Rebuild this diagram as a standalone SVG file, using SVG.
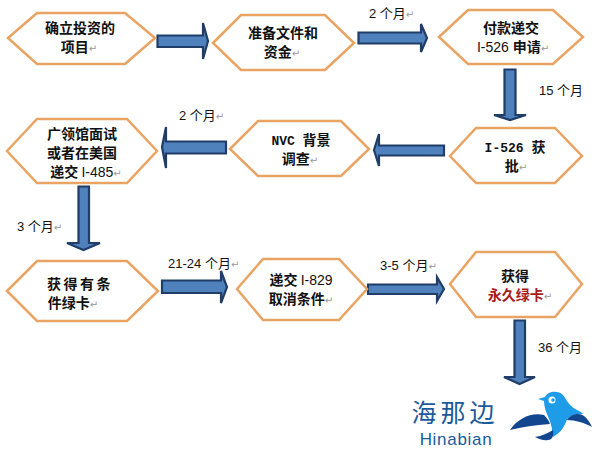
<svg xmlns="http://www.w3.org/2000/svg" width="596" height="451" viewBox="0 0 596 451">
<style>
.hex{fill:#fff;stroke:#E9A363;stroke-width:2.5;stroke-linejoin:miter}
.arr{fill:#4F81BD;stroke:#1F3D66;stroke-width:2.2;stroke-linejoin:miter}
text{font-family:"Noto Sans CJK SC","Liberation Sans",sans-serif;font-size:14px;font-weight:700;fill:#111;text-anchor:middle}
.lat{font-family:"Liberation Sans",sans-serif;font-weight:400}
.mono{font-family:"Liberation Mono",monospace;font-size:13px}
.lab{font-size:13px;font-weight:400;text-anchor:start}
.ret{fill:#999;font-size:10px;font-weight:400;font-family:"DejaVu Sans",sans-serif}
.red{fill:#A61C1C}
</style>
<rect width="596" height="451" fill="#fff"/>
<g id="connectors">
<path class="arr" d="M157.500 35.500H203V23L208 41L203 59V47H157.500Z"/>
<path class="arr" d="M358.500 32.500H421V24L427 38L421 52V43.500H358.500Z"/>
<path class="arr" d="M504.500 69.500H515.500V115H526L510 120L494 115H504.500Z"/>
<path class="arr" d="M444 145.500H379V134L374 150L379 166V155.500H444Z"/>
<path class="arr" d="M226 141.500H166V127L162 147L166 168V153.500H226Z"/>
<path class="arr" d="M78.500 186.500H89V243H100L83.500 250L67 243H78.500Z"/>
<path class="arr" d="M162 280.500H221V271L227 287L221 303V293H162Z"/>
<path class="arr" d="M368 284.500H437V277L444 289L437 301V294H368Z"/>
<path class="arr" d="M514.500 320.500H525V377H535L519.500 384L504 377H514.500Z"/>
</g>
<g id="node1"><polygon class="hex" points="8,38 37,13 125,13 155,38 125,64 37,64"/>
<text x="80" y="33">确立投资的</text><text x="79" y="52">项目<tspan class="ret">↵</tspan></text></g>
<g id="node2"><polygon class="hex" points="213,43 241,15 325,15 354,43 325,70 241,70"/>
<text x="283" y="38">准备文件和</text><text x="282" y="57">资金<tspan class="ret">↵</tspan></text></g>
<g id="node3"><polygon class="hex" points="439,37 468,10 553,10 583,37 553,64 468,64"/>
<text x="511" y="33">付款递交</text><text x="513" y="52"><tspan class="lat">I-526 </tspan>申请<tspan class="ret">↵</tspan></text></g>
<g id="node4"><polygon class="hex" points="450,156 476,128 555,128 582,156 555,183 476,183"/>
<text x="515" y="152"><tspan class="mono">I-526 </tspan>获</text><text x="516" y="171">批<tspan class="ret">↵</tspan></text></g>
<g id="node5"><polygon class="hex" points="230,149 258,121 341,121 369,149 341,176 258,176"/>
<text x="301" y="145"><tspan class="mono">NVC </tspan>背景</text><text x="300" y="164">调查<tspan class="ret">↵</tspan></text></g>
<g id="node6"><polygon class="hex" points="7,151 37,119 127,119 157,151 127,183 37,183"/>
<text x="82" y="139">广领馆面试</text><text x="82" y="158">或者在美国</text><text x="86" y="177">递交 <tspan class="lat">I-485</tspan><tspan class="ret">↵</tspan></text></g>
<g id="node7"><polygon class="hex" points="7,291 37,261 127,261 158,291 127,321 37,321"/>
<text x="80" y="289" letter-spacing="2.500">获得有条</text><text x="73" y="308">件绿卡<tspan class="ret">↵</tspan></text></g>
<g id="node8"><polygon class="hex" points="237,289 263,259 339,259 367,289 339,320 263,320"/>
<text x="301" y="285">递交 <tspan class="lat">I-829</tspan></text><text x="301" y="304">取消条件<tspan class="ret">↵</tspan></text></g>
<g id="node9"><polygon class="hex" points="450,284 476,252 555,252 582,284 555,317 476,317"/>
<text x="515" y="281">获得</text><text x="520" y="300"><tspan class="red">永久绿卡</tspan><tspan class="ret">↵</tspan></text></g>
<g id="labels">
<text class="lab" x="369" y="18"><tspan class="lat">2 </tspan>个月<tspan class="ret">↵</tspan></text>
<text class="lab" x="539" y="95"><tspan class="lat">15 </tspan>个月</text>
<text class="lab" x="179" y="120"><tspan class="lat">2 </tspan>个月<tspan class="ret">↵</tspan></text>
<text class="lab" x="17" y="231"><tspan class="lat">3 </tspan>个月<tspan class="ret">↵</tspan></text>
<text class="lab" x="168" y="268"><tspan class="lat">21-24 </tspan>个月<tspan class="ret">↵</tspan></text>
<text class="lab" x="380" y="270"><tspan class="lat">3-5 </tspan>个月<tspan class="ret">↵</tspan></text>
<text class="lab" x="538" y="352"><tspan class="lat">36 </tspan>个月</text>
</g>
<g id="logo">
<text x="455" y="422" style="font-size:25px;font-weight:400;fill:#1C5A9C;letter-spacing:4px">海那边</text>
<text x="456" y="445" class="lat" style="font-size:17px;fill:#1C5A9C;letter-spacing:.7px">Hinabian</text>
<path d="M538 399L545 397C548 391 558 390 563 395C567 400 568 405 577 410C580 411 582 413 583 414C574 414 568 416 566 422C563 430 558 434 553 437C552 431 552 425 549 419C546 412 544 407 544 401Z" fill="#1E9CE8"/>
<path d="M510 430C518 418 532 412 544 415C547 418 549 421 550 424C535 425 522 427 510 430Z" fill="#12478F"/>
<path d="M567 420C570 414 580 412 584 416C588 419 590 423 592 427C585 423 575 420 567 420Z" fill="#12478F"/>
<path d="M535 437C542 436 548 433 553 430C554 434 553 440 548 440C544 441 539 439 535 437Z" fill="#12478F"/>
<circle cx="552" cy="400" r="3.500" fill="#fff"/><circle cx="553" cy="400" r="1.800" fill="#1E9CE8"/>
</g>
</svg>
